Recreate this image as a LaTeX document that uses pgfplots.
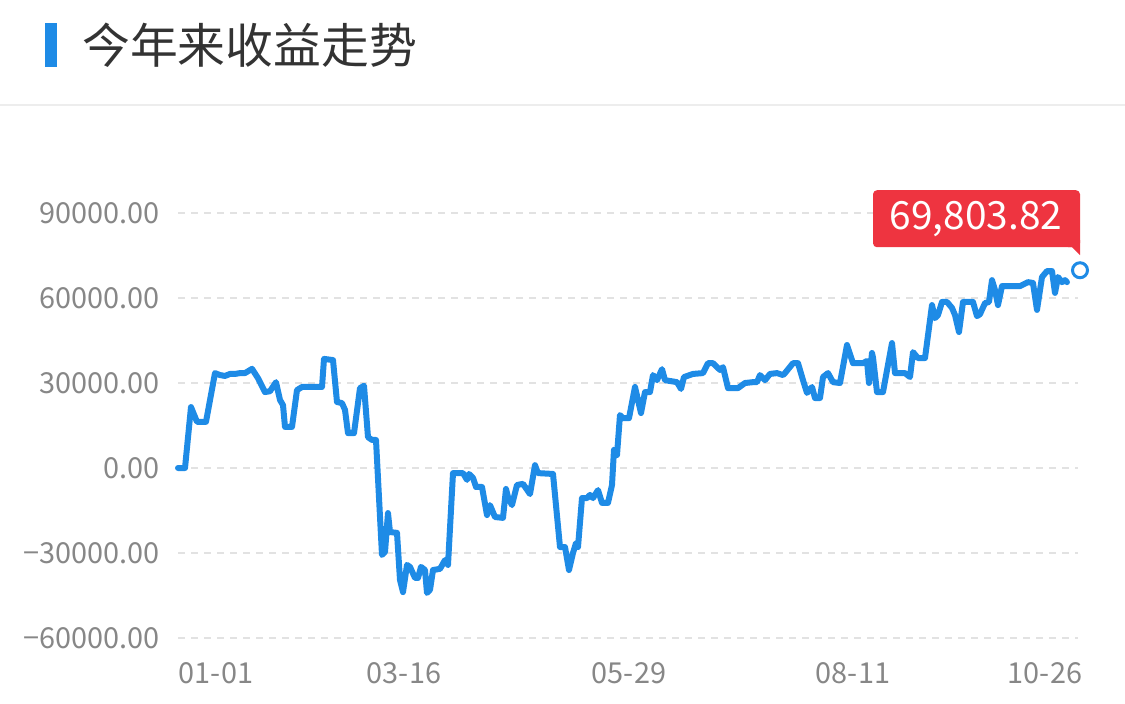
\documentclass[border=0pt]{standalone}
\usepackage{pgfplots}
\pgfplotsset{compat=1.18}
\usepackage{fontspec}
\newfontfamily\cjk{Noto Sans CJK SC}
\setmainfont{Noto Sans CJK SC}

\definecolor{lineblue}{HTML}{1E8BE6}
\definecolor{calloutred}{HTML}{EE3440}
\definecolor{gridgray}{HTML}{E2E2E2}
\definecolor{labelgray}{HTML}{878787}
\definecolor{titlegray}{HTML}{333333}
\definecolor{sepgray}{HTML}{EDEDED}

\pgfplotstableread{
x y
178 0
185 0
191 21500
197 16300
206 16300
215 33500
220 32800
225 32500
230 33200
235 33200
240 33500
245 33500
252 35000
258 31700
265 26800
270 27100
276 30300
280 24000
283 22200
285 14500
292 14500
297 27500
302 28600
322 28600
324 38500
333 38100
337 23300
342 22900
345 20500
348 12300
354 12300
360 28200
364 29000
368 10900
372 9900
376 9900
382 -30700
385 -29600
388 -15900
390 -22600
397 -22900
400 -39500
403 -43800
407 -34200
410 -34900
415 -38800
418 -38800
421 -34900
425 -36000
427 -44100
430 -43000
433 -36000
440 -35600
445 -32500
448 -34200
453 -1800
463 -1800
467 -4200
469 -2100
473 -3500
476 -6700
482 -6700
487 -16600
490 -13100
495 -17300
503 -17600
506 -7400
508 -10200
512 -13100
517 -6000
523 -5600
530 -9200
535 1000
538 -1800
553 -2100
560 -27900
565 -27900
569 -36000
573 -30000
576 -26500
578 -27900
582 -10600
587 -10600
590 -9500
593 -10600
598 -7800
602 -12300
608 -12300
612 -6000
614 6400
617 4600
620 18700
623 17600
629 17600
635 28600
641 19400
645 26800
650 26800
653 32800
657 31000
662 34900
665 31000
677 30300
681 27900
684 32100
693 33200
703 33500
708 37000
713 37000
720 34600
723 35600
728 28200
738 28200
745 30000
753 30300
757 30300
760 32800
765 31000
770 33200
777 33500
783 32800
785 33500
793 37000
798 37000
803 31000
807 26500
812 28600
815 24700
820 24700
823 32100
828 33500
833 30300
840 30000
847 43400
853 37000
863 37000
867 37800
869 30000
872 40600
873 39000
877 26800
883 26800
892 44100
895 33500
905 33500
910 32100
913 40900
918 38800
925 38800
932 57500
935 52900
938 54000
942 58600
947 58600
952 56500
955 54000
959 48000
963 58600
973 58600
977 53600
980 54300
985 58200
989 58600
992 66300
995 62800
998 57500
1002 64200
1020 64200
1028 65600
1033 65300
1037 55800
1042 67400
1047 69500
1052 69500
1055 61800
1058 67400
1062 65600
1065 66300
1067 65600
}\profit

\begin{document}
\begin{tikzpicture}
\path[use as bounding box] (0,0) rectangle (1125bp,-704bp);
% header
\fill[lineblue] (45bp,-23bp) rectangle (57bp,-67bp);
\node[anchor=west, inner sep=0pt, text=titlegray, font=\cjk\fontsize{48}{48}\selectfont] at (82bp,-45bp) {今年来收益走势};
\draw[sepgray, line width=1.5bp] (0,-105bp) -- (1125bp,-105bp);

\begin{axis}[
  at={(178bp,-638bp)}, anchor=south west,
  scale only axis, width=900bp, height=425bp,
  xmin=178, xmax=1078, ymin=-60000, ymax=90000,
  clip=false,
  scaled y ticks=false,
  axis line style={draw=none},
  major tick length=0pt,
  ytick={-60000,-30000,0,30000,60000,90000},
  yticklabels={−60000.00,−30000.00,0.00,30000.00,60000.00,90000.00},
  xtick={216,404,629,853,1045},
  xticklabels={01-01,03-16,05-29,08-11,10-26},
  ymajorgrids,
  grid style={dash pattern=on 7bp off 6bp, line width=1.5bp, gridgray},
  tick label style={font=\cjk\fontsize{29}{29}\selectfont, text=labelgray, inner sep=0pt},
  yticklabel style={anchor=east, xshift=-18bp},
  xticklabel style={anchor=north, yshift=-24bp},
]
\addplot[lineblue, line width=6bp, line join=round, line cap=round, mark=none] table {\profit};
\addplot[only marks, mark=*, mark size=7.5bp, mark options={draw=lineblue, fill=white, line width=3bp}] coordinates {(1080,69803.82)};
\coordinate (P) at (axis cs:1080,69803.82);
\end{axis}

\begin{scope}[shift={(P)}]
\fill[calloutred, rounded corners=4bp] (-207bp,23bp) rectangle (0bp,80bp);
\fill[calloutred] (-12bp,23bp) -- (-12bp,30bp) -- (0bp,30bp) -- (0bp,15bp) -- (-8bp,23bp) -- cycle;
\node[text=white, inner sep=0pt, font=\cjk\fontsize{39}{39}\selectfont] at (-104bp,51bp) {69,803.82};
\end{scope}
\end{tikzpicture}
\end{document}
